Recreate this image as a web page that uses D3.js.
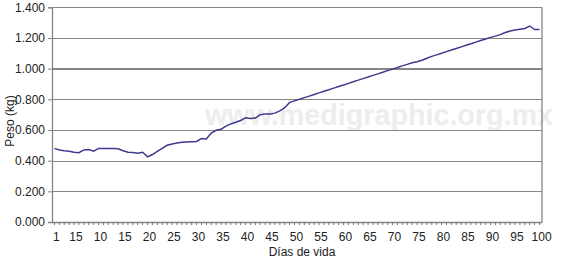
<!DOCTYPE html>
<meta charset="utf-8">
<head>
<script src="https://d3js.org/d3.v7.min.js"></script>
<style>
body { margin: 0; background: #fff; font-family: "Liberation Sans", Arial, sans-serif; }
.axis text { font: 12px "Liberation Sans", Arial, sans-serif; fill: #222; }
.grid line { stroke: #858585; stroke-width: 1.3; shape-rendering: crispEdges; }
.grid path { stroke-width: 0; }
</style>
</head>
<body>
<script>

// days 1..100
var dias = d3.range(1, 101);

// weight (kg) per day
var peso = [
  0.480, 0.470, 0.465, 0.462, 0.455, 0.452, 0.470, 0.472, 0.462, 0.480,
  0.480, 0.480, 0.480, 0.478, 0.465, 0.455, 0.453, 0.448, 0.455, 0.425,
  0.440, 0.460, 0.480, 0.500, 0.508, 0.515, 0.520, 0.522, 0.524, 0.525,
  0.545, 0.542, 0.580, 0.598, 0.605, 0.625, 0.640, 0.650, 0.662, 0.680,
  0.675, 0.678, 0.700, 0.705, 0.705, 0.710, 0.725, 0.745, 0.780, 0.790,
  0.800, 0.811, 0.821, 0.831, 0.842, 0.852, 0.862, 0.873, 0.883, 0.893,
  0.904, 0.914, 0.925, 0.935, 0.945, 0.956, 0.966, 0.976, 0.987, 0.997,
  1.007, 1.018, 1.028, 1.038, 1.045, 1.055, 1.068, 1.080, 1.090, 1.100,
  1.111, 1.121, 1.131, 1.142, 1.152, 1.162, 1.173, 1.183, 1.193, 1.204,
  1.212, 1.222, 1.236, 1.245, 1.252, 1.257, 1.262, 1.278, 1.255, 1.256
];

// which days get a label, and the label text as printed
var tickDias = [1, 5, 10, 15, 20, 25, 30, 35, 40, 45, 50, 55, 60, 65, 70, 75, 80, 85, 90, 95, 100];
var tickTextos = ["1", "15", "10", "15", "20", "25", "30", "35", "40", "45", "50", "55", "60", "65", "70", "75", "80", "85", "90", "95", "100"];
var yTicks = [0, 0.2, 0.4, 0.6, 0.8, 1.0, 1.2, 1.4];

var margin = {top: 7.3, right: 25, bottom: 43, left: 52},
    width = 567 - margin.left - margin.right,
    height = 265 - margin.top - margin.bottom;

var svg = d3.select("body").append("svg")
    .attr("width", 567)
    .attr("height", 265);

// watermark
svg.append("text")
    .attr("x", 205)
    .attr("y", 125)
    .attr("textLength", 348)
    .attr("lengthAdjust", "spacingAndGlyphs")
    .style("font", "bold 29px 'Liberation Sans', Arial, sans-serif")
    .style("fill", "#ededed")
    .text("www.medigraphic.org.mx");

var g = svg.append("g")
    .attr("transform", "translate(" + margin.left + "," + margin.top + ")");

var x = d3.scaleBand().domain(dias).range([0, width]);
var y = d3.scaleLinear().domain([0, 1.4]).range([height, 0]);

var fmt = d3.format(".3f");

// horizontal gridlines
g.append("g")
    .attr("class", "grid")
    .call(d3.axisLeft(y).tickValues(yTicks).tickSize(-width).tickFormat(""));

// right border
g.append("line")
    .attr("x1", width).attr("x2", width)
    .attr("y1", 0).attr("y2", height)
    .style("stroke", "#858585").style("stroke-width", 1.3);

// y axis
var ya = g.append("g")
    .attr("class", "axis")
    .call(d3.axisLeft(y).tickValues(yTicks).tickSize(4).tickPadding(3)
      .tickFormat(function(d) { return fmt(d); }));
ya.select(".domain").style("stroke", "#858585").style("stroke-width", 1.3);
ya.selectAll(".tick line").style("stroke", "#858585");

// x axis: a small tick for every day
var xa = g.append("g")
    .attr("class", "axis")
    .attr("transform", "translate(0," + height + ")")
    .call(d3.axisBottom(x).tickSize(3).tickSizeOuter(0).tickFormat(""));
xa.select(".domain").style("stroke", "#858585").style("stroke-width", 1.3);
xa.selectAll(".tick line").style("stroke", "#777");

// x labels
g.selectAll(".xlab")
    .data(tickDias)
  .enter().append("text")
    .attr("class", "xlab")
    .attr("x", function(d) { return x(d) + x.bandwidth() / 2 + 2; })
    .attr("y", height + 19.5)
    .style("text-anchor", "middle")
    .style("font", "12px 'Liberation Sans', Arial, sans-serif")
    .style("fill", "#222")
    .text(function(d, i) { return tickTextos[i]; });

// the line
var linea = d3.line()
    .x(function(d, i) { return x(dias[i]) + x.bandwidth() / 2; })
    .y(function(d) { return y(d); });

g.append("path")
    .datum(peso)
    .attr("d", linea)
    .style("fill", "none")
    .style("stroke", "#3d3a8e")
    .style("stroke-width", 1.5);

// axis titles
svg.append("text")
    .attr("x", 302)
    .attr("y", 256)
    .style("text-anchor", "middle")
    .style("font", "12px 'Liberation Sans', Arial, sans-serif")
    .style("fill", "#222")
    .text("Días de vida");

svg.append("text")
    .attr("transform", "translate(14,121) rotate(-90)")
    .style("text-anchor", "middle")
    .style("font", "12px 'Liberation Sans', Arial, sans-serif")
    .style("fill", "#222")
    .text("Peso (kg)");

</script>
</body>
